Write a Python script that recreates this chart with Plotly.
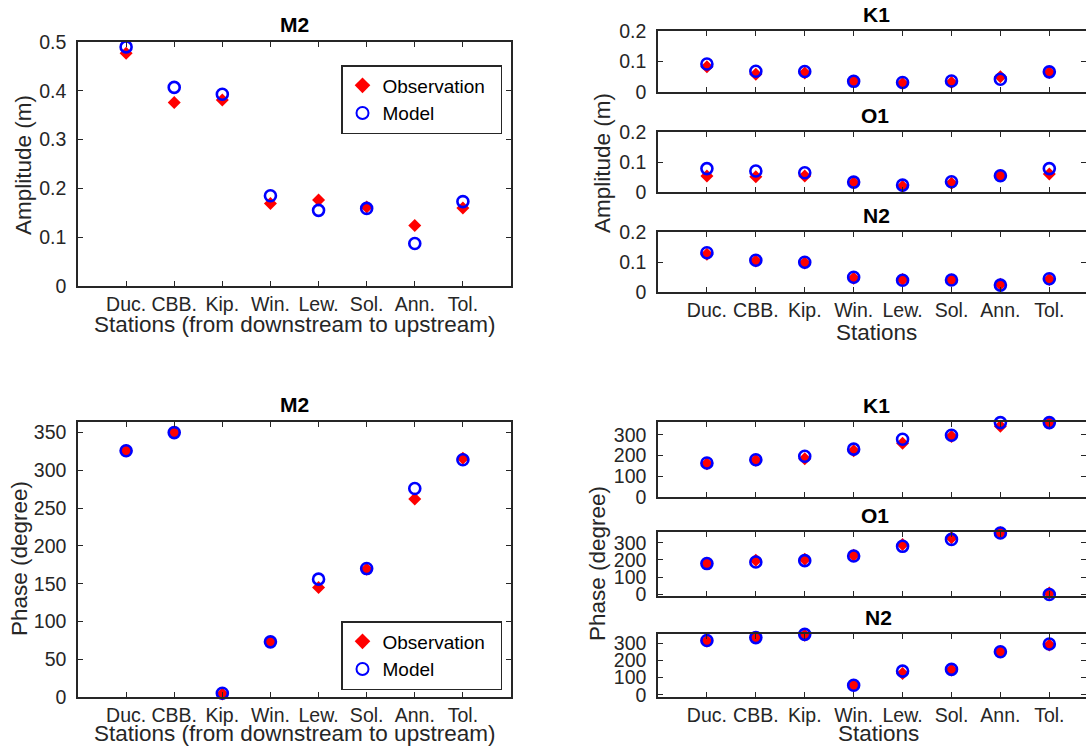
import plotly.graph_objects as go

W, H = 1086, 746

stations = ["Duc.", "CBB.", "Kip.", "Win.", "Lew.", "Sol.", "Ann.", "Tol."]
xpos = [1, 2, 3, 4, 5, 6, 7, 8]

# Amplitude (m)
m2_amp_obs = [0.477, 0.376, 0.381, 0.169, 0.176, 0.162, 0.124, 0.160]
m2_amp_mod = [0.490, 0.407, 0.393, 0.185, 0.155, 0.159, 0.087, 0.173]
k1_amp_obs = [0.083, 0.058, 0.062, 0.035, 0.028, 0.031, 0.050, 0.064]
k1_amp_mod = [0.092, 0.068, 0.067, 0.035, 0.031, 0.036, 0.042, 0.066]
o1_amp_obs = [0.053, 0.051, 0.053, 0.031, 0.018, 0.029, 0.054, 0.060]
o1_amp_mod = [0.078, 0.070, 0.064, 0.033, 0.023, 0.034, 0.054, 0.078]
n2_amp_obs = [0.126, 0.103, 0.097, 0.046, 0.042, 0.040, 0.026, 0.042]
n2_amp_mod = [0.131, 0.106, 0.099, 0.049, 0.039, 0.040, 0.023, 0.044]

# Phase (degree)
m2_pha_obs = [326, 350, 4, 73, 145, 169, 262, 316]
m2_pha_mod = [326, 350, 5, 73, 156, 170, 276, 314]
k1_pha_obs = [160, 177, 185, 223, 259, 292, 341, 357]
k1_pha_mod = [164, 180, 197, 231, 279, 298, 359, 359]
o1_pha_obs = [181, 198, 204, 227, 290, 329, 358, 8]
o1_pha_mod = [179, 188, 196, 223, 279, 319, 356, 0]
n2_pha_obs = [313, 332, 346, 56, 124, 144, 250, 289]
n2_pha_mod = [315, 332, 351, 56, 138, 148, 250, 295]

FONT = "Liberation Sans, Arial, Helvetica, sans-serif"
TXT = "#262626"


def dx(p):
    return p / W


def dy(p):
    return 1 - p / H


# panel boxes in pixels: (x0, x1, ytop, ybottom)
panels = [
    dict(box=(78, 511, 42, 286), obs=m2_amp_obs, mod=m2_amp_mod, yr=[0, 0.5],
         tv=[0, 0.1, 0.2, 0.3, 0.4, 0.5], tt=["0", "0.1", "0.2", "0.3", "0.4", "0.5"],
         xr=[0, 9], xlab=True, legend="legend"),
    dict(box=(658, 1086, 31, 92), obs=k1_amp_obs, mod=k1_amp_mod, yr=[0, 0.2],
         tv=[0, 0.1, 0.2], tt=["0", "0.1", "0.2"], xr=[0, 8.75], xlab=False),
    dict(box=(658, 1086, 132, 192), obs=o1_amp_obs, mod=o1_amp_mod, yr=[0, 0.2],
         tv=[0, 0.1, 0.2], tt=["0", "0.1", "0.2"], xr=[0, 8.75], xlab=False),
    dict(box=(658, 1086, 232, 292), obs=n2_amp_obs, mod=n2_amp_mod, yr=[0, 0.2],
         tv=[0, 0.1, 0.2], tt=["0", "0.1", "0.2"], xr=[0, 8.75], xlab=True),
    dict(box=(78, 511, 422, 697), obs=m2_pha_obs, mod=m2_pha_mod, yr=[0, 364],
         tv=[0, 50, 100, 150, 200, 250, 300, 350],
         tt=["0", "50", "100", "150", "200", "250", "300", "350"],
         xr=[0, 9], xlab=True, legend="legend2"),
    dict(box=(658, 1086, 422, 497), obs=k1_pha_obs, mod=k1_pha_mod, yr=[0, 362],
         tv=[0, 100, 200, 300], tt=["0", "100", "200", "300"], xr=[0, 8.75], xlab=False),
    dict(box=(658, 1086, 532, 596), obs=o1_pha_obs, mod=o1_pha_mod, yr=[-9, 362],
         tv=[0, 100, 200, 300], tt=["0", "100", "200", "300"], xr=[0, 8.75], xlab=False),
    dict(box=(658, 1086, 634, 697), obs=n2_pha_obs, mod=n2_pha_mod, yr=[-12, 353],
         tv=[0, 100, 200, 300], tt=["0", "100", "200", "300"], xr=[0, 8.75], xlab=True),
]

fig = go.Figure()
layout = {}

for i, p in enumerate(panels):
    n = "" if i == 0 else str(i + 1)
    xa, ya = "x" + n, "y" + n
    x0, x1, yt, yb = p["box"]
    leg = p.get("legend")
    fig.add_trace(go.Scatter(
        x=xpos, y=p["obs"], mode="markers", name="Observation\u00a0\u00a0",
        xaxis=xa, yaxis=ya, cliponaxis=False,
        marker=dict(symbol="diamond", size=10, color="#ff0000", line=dict(width=0)),
        showlegend=leg is not None, legend=leg if leg else "legend",
    ))
    fig.add_trace(go.Scatter(
        x=xpos, y=p["mod"], mode="markers", name="Model",
        xaxis=xa, yaxis=ya, cliponaxis=False,
        marker=dict(symbol="circle-open", size=11, color="#0000ff",
                    line=dict(width=2.6, color="#0000ff")),
        showlegend=leg is not None, legend=leg if leg else "legend",
    ))
    common = dict(showline=True, linecolor=TXT, linewidth=1.5, mirror="ticks",
                  ticks="inside", ticklen=5, tickwidth=1.3, tickcolor=TXT,
                  showgrid=False, zeroline=False, automargin=False,
                  tickfont=dict(family=FONT, size=19.5, color=TXT))
    layout["xaxis" + n] = dict(
        common, domain=[dx(x0), min(dx(x1), 1.0)], range=p["xr"], anchor=ya,
        tickmode="array", tickvals=xpos,
        ticktext=stations if p["xlab"] else [""] * 8,
        showticklabels=p["xlab"], ticklabelstandoff=0)
    layout["yaxis" + n] = dict(
        common, domain=[dy(yb), dy(yt)], range=p["yr"], anchor=xa,
        tickmode="array", tickvals=p["tv"], ticktext=p["tt"], ticklabelstandoff=6)


def ann(text, x, y, size=22, bold=False, angle=0):
    return dict(text=("<b>%s</b>" % text) if bold else text, x=dx(x), y=dy(y),
                xref="paper", yref="paper", showarrow=False, textangle=angle,
                xanchor="center", yanchor="middle",
                font=dict(family=FONT, size=size, color=TXT if not bold else "#000000"))


annotations = [
    ann("M2", 294, 24, 21, True),
    ann("K1", 876, 14, 21, True),
    ann("O1", 875, 115, 21, True),
    ann("N2", 876, 215, 21, True),
    ann("M2", 294, 404, 21, True),
    ann("K1", 876, 405, 21, True),
    ann("O1", 875, 515, 21, True),
    ann("N2", 878, 617, 21, True),
    ann("Amplitude (m)", 23, 165, 22.5, angle=-90),
    ann("Stations (from downstream to upstream)", 294, 325, 22.5),
    ann("Phase (degree)", 19, 559, 22.5, angle=-90),
    ann("Stations (from downstream to upstream)", 294, 733, 22.5),
    ann("Amplitude (m)", 602, 163, 22.5, angle=-90),
    ann("Stations", 876, 332, 22.5),
    ann("Phase (degree)", 597, 564, 22.5, angle=-90),
    ann("Stations", 878, 733, 22.5),
]

legend_common = dict(xanchor="left", yanchor="top", bgcolor="#ffffff",
                     bordercolor=TXT, borderwidth=1.5,
                     font=dict(family=FONT, size=19, color="#000000"),
                     tracegroupgap=0, itemsizing="constant")

fig.update_layout(
    width=W, height=H, autosize=False,
    margin=dict(l=0, r=0, t=0, b=0, pad=0, autoexpand=False),
    paper_bgcolor="#ffffff", plot_bgcolor="#ffffff",
    annotations=annotations,
    legend=dict(legend_common, x=dx(341), y=dy(65)),
    legend2=dict(legend_common, x=dx(341), y=dy(621)),
    **layout,
)

fig.write_html("out.html")
